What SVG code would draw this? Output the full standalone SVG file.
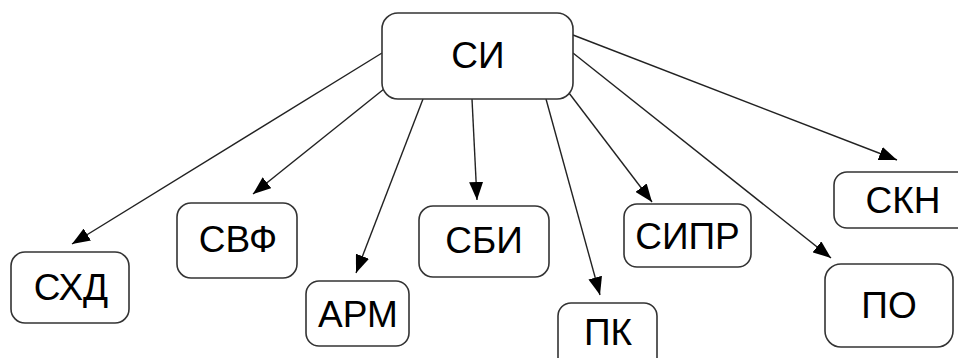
<svg xmlns="http://www.w3.org/2000/svg" width="958" height="358" viewBox="0 0 958 358">
<style>
.box{fill:#fff;stroke:#333;stroke-width:1.6}
.lbl{font-family:"Liberation Sans",Arial,sans-serif;font-size:37px;fill:#000;text-anchor:middle}
.edge{stroke:#222;stroke-width:1.4;fill:none;marker-end:url(#ah)}
</style>
<defs>
<marker id="ah" markerWidth="18" markerHeight="14" refX="18" refY="7" orient="auto" markerUnits="userSpaceOnUse">
<path d="M0,0 L18,7 L0,14 Z" fill="#000"/>
</marker>
</defs>
<rect width="958" height="358" fill="#fff"/>
<g id="connectors">
<line class="edge" x1="382" y1="53" x2="72" y2="244"/>
<line class="edge" x1="384" y1="89" x2="253" y2="194"/>
<line class="edge" x1="423" y1="99" x2="356" y2="273"/>
<line class="edge" x1="472" y1="99" x2="477" y2="200"/>
<line class="edge" x1="546" y1="99" x2="600" y2="295"/>
<line class="edge" x1="569" y1="93" x2="652" y2="202"/>
<line class="edge" x1="573" y1="53" x2="831" y2="258"/>
<line class="edge" x1="573" y1="35" x2="897" y2="160"/>
</g>
<g id="node-si"><rect class="box" x="382" y="13" width="191" height="86" rx="16"/><text class="lbl" x="478" y="68">СИ</text></g>
<g id="node-shd"><rect class="box" x="11" y="252" width="118" height="71" rx="14"/><text class="lbl" x="71" y="300">СХД</text></g>
<g id="node-svf"><rect class="box" x="177" y="203" width="120" height="75" rx="14"/><text class="lbl" x="238" y="252">СВФ</text></g>
<g id="node-arm"><rect class="box" x="306" y="281" width="103" height="65" rx="13"/><text class="lbl" x="358" y="327">АРМ</text></g>
<g id="node-sbi"><rect class="box" x="419" y="206" width="130" height="71" rx="14"/><text class="lbl" x="484" y="253">СБИ</text></g>
<g id="node-pk"><rect class="box" x="558" y="303" width="99" height="70" rx="13"/><text class="lbl" x="608" y="345">ПК</text></g>
<g id="node-sipr"><rect class="box" x="624" y="204" width="127" height="63" rx="13"/><text class="lbl" x="687.5" y="249">СИПР</text></g>
<g id="node-skn"><rect class="box" x="834" y="172" width="140" height="56" rx="13"/><text class="lbl" x="903" y="213">СКН</text></g>
<g id="node-po"><rect class="box" x="825" y="264" width="128" height="83" rx="16"/><text class="lbl" x="889" y="318">ПО</text></g>
</svg>
